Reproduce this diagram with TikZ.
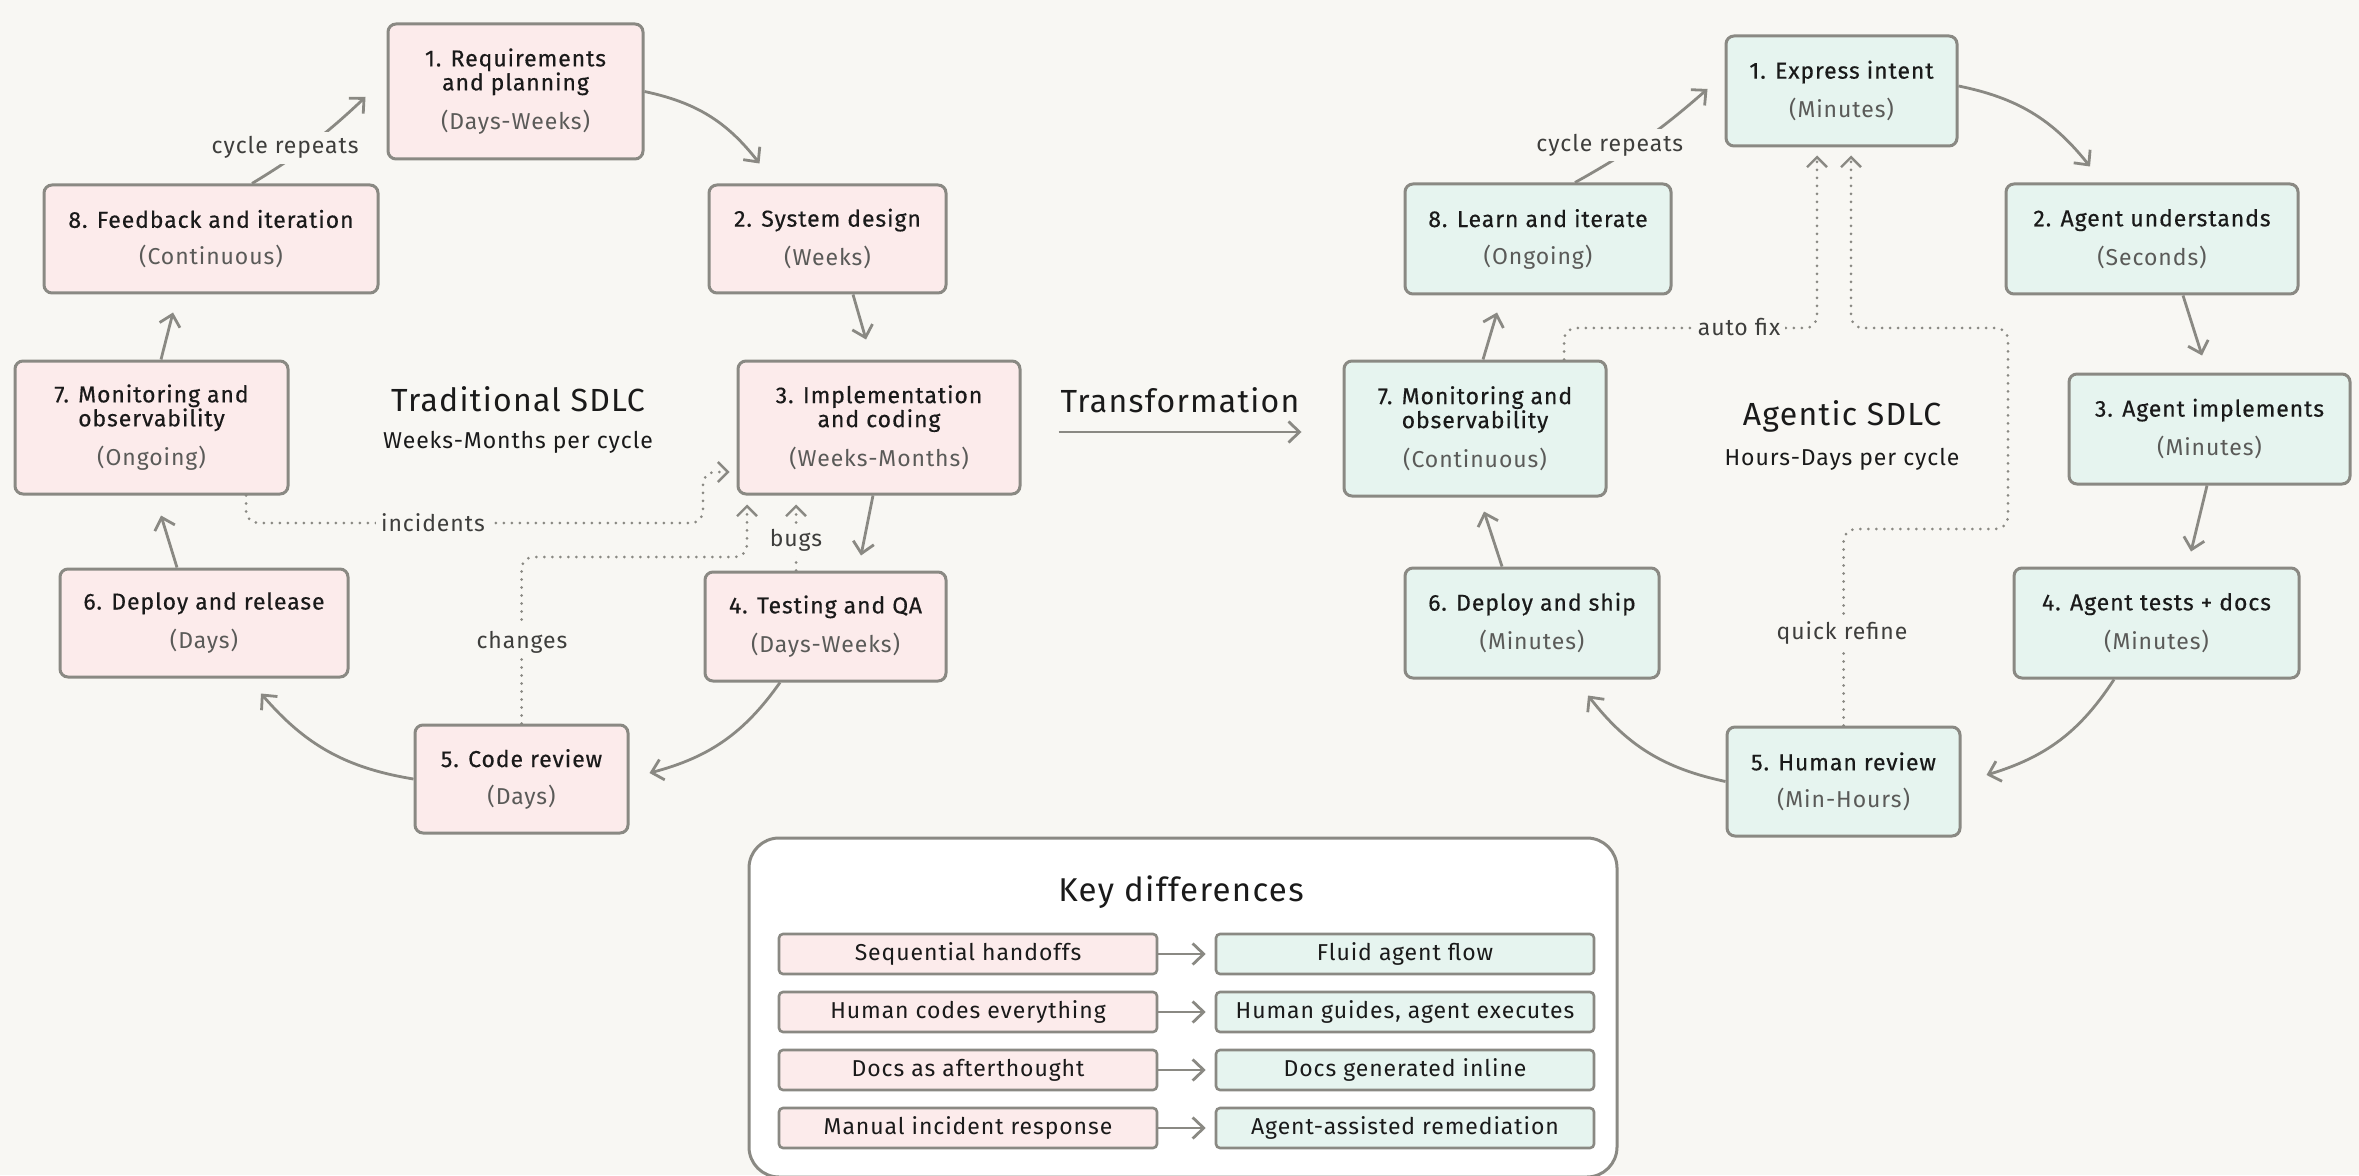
\documentclass[tikz,border=0pt]{standalone}
\usepackage{fontspec}
\setmainfont[LetterSpace=4]{Fira Sans}
\newfontfamily\stagefont[LetterSpace=4,FakeBold=0.4]{Fira Sans}
\usetikzlibrary{arrows.meta,calc}

\definecolor{bg}{HTML}{F8F7F3}
\definecolor{pinkfill}{HTML}{FCEBEB}
\definecolor{greenfill}{HTML}{E6F4EF}
\definecolor{edge}{HTML}{8A8983}
\definecolor{ink}{HTML}{1A1A1A}
\definecolor{sub}{HTML}{5A5A58}
\definecolor{lblink}{HTML}{3E3E3C}

% two-part stage text: title, then duration in grey
\newcommand{\stagetext}[2]{#1\\[6.5pt]\textcolor{sub}{\rmfamily #2}}

\tikzset{
  stage/.style={draw=edge, line width=1.5pt, rounded corners=4pt, align=center,
    inner sep=0pt, text=ink, font=\stagefont\fontsize{11.5}{12}\selectfont},
  trad/.style={stage, fill=pinkfill},
  agent/.style={stage, fill=greenfill},
  tip/.style={-{Straight Barb[length=5.5pt,width=10.5pt,line width=1.4pt]}},
  flow/.style={draw=edge, line width=1.4pt, tip},
  loopback/.style={draw=edge, line width=1.5pt, line cap=round,
    dash pattern=on 0pt off 4pt, rounded corners=6pt,
    -{Straight Barb[length=5pt,width=10pt,line width=1.2pt]}},
  lbl/.style={fill=bg, text=lblink, inner sep=2.5pt, font=\fontsize{11.5}{12}\selectfont},
  ctitle/.style={anchor=base, text=ink, font=\fontsize{16}{18}\selectfont},
  csub/.style={anchor=base, text=ink, font=\fontsize{11.5}{13}\selectfont},
  keyrow/.style={draw=edge, line width=1.3pt, rounded corners=2pt, inner sep=0pt,
    minimum width=189pt, minimum height=20pt, text=ink, font=\fontsize{11.5}{12}\selectfont},
}

\begin{document}
\begin{tikzpicture}[x=0.5pt, y=0.5pt]
  \fill[bg] (0,0) rectangle (2359,1175);
  \useasboundingbox (0,0) rectangle (2359,1175);
  \clip (0,0) rectangle (2359,1175);

  % ---------------- traditional cycle ----------------
  \node[trad, minimum width=127.5pt, minimum height=67.5pt] (L1) at (515.5,1083.5)
    {\stagetext{1. Requirements\\and planning}{(Days-Weeks)}};
  \node[trad, minimum width=118.5pt, minimum height=54pt] (L2) at (827.5,936)
    {\stagetext{2. System design}{(Weeks)}};
  \node[trad, minimum width=141pt, minimum height=66.5pt] (L3) at (879,747.5)
    {\stagetext{3. Implementation\\and coding}{(Weeks-Months)}};
  \node[trad, minimum width=120.5pt, minimum height=54.5pt] (L4) at (825.5,548.5)
    {\stagetext{4. Testing and QA}{(Days-Weeks)}};
  \node[trad, minimum width=106.5pt, minimum height=54pt] (L5) at (521.5,396)
    {\stagetext{5. Code review}{(Days)}};
  \node[trad, minimum width=144pt, minimum height=54pt] (L6) at (204,552)
    {\stagetext{6. Deploy and release}{(Days)}};
  \node[trad, minimum width=136.5pt, minimum height=66.5pt] (L7) at (151.5,747.5)
    {\stagetext{7. Monitoring and\\observability}{(Ongoing)}};
  \node[trad, minimum width=167pt, minimum height=54pt] (L8) at (211,936)
    {\stagetext{8. Feedback and iteration}{(Continuous)}};

  \node[ctitle] (tradT) at (518,764) {Traditional SDLC};
  \node[csub] (tradS) at (518,727) {Weeks-Months per cycle};

  \draw[flow] (L1.east) to[bend left=20] ([xshift=-34pt,yshift=10pt]L2.north);
  \draw[flow] ([xshift=12.75pt]L2.south) -- ([xshift=-6.5pt,yshift=10pt]L3.north);
  \draw[flow] ([xshift=-3pt]L3.south) -- ([xshift=17.75pt,yshift=7.5pt]L4.north);
  \draw[flow] ([xshift=-22.75pt]L4.south) to[bend left=20] ([xshift=10pt,yshift=3pt]L5.east);
  \draw[flow] (L5.west) to[bend left=20] ([xshift=28.5pt,yshift=-7.5pt]L6.south);
  \draw[flow] ([xshift=-13.5pt]L6.north) -- ([xshift=4.75pt,yshift=-10pt]L7.south);
  \draw[flow] ([xshift=4.75pt]L7.north) -- ([xshift=-19pt,yshift=-9pt]L8.south);
  \draw[flow] ([xshift=20.5pt]L8.north) to[bend right=6]
    node[lbl, pos=0.45, xshift=-10.5pt] (Lrep) {cycle repeats}
    ([xshift=-10.5pt,yshift=-2.75pt]L1.west);

  % feedback loops back into implementation
  \coordinate (incA) at (703,652);
  \draw[loopback] ([xshift=47.25pt]L7.south) |- (incA) |- ([xshift=-3.5pt,yshift=-22.25pt]L3.west);
  \node[lbl] (incL) at (433,652) {incidents};

  \coordinate (chgA) at (747,618);
  \draw[loopback] (L5.north) |- (chgA) -- ([xshift=-66pt,yshift=-4.5pt]L3.south);
  \node[lbl] (chgL) at (522,533) {changes};

  \draw[loopback] ([xshift=-14.75pt]L4.north) -- ([xshift=-41.5pt,yshift=-4.5pt]L3.south);
  \node[lbl] (bugL) at (796,635) {bugs};

  % ---------------- agentic cycle ----------------
  \node[agent, minimum width=115.5pt, minimum height=55pt] (R1) at (1841.5,1084)
    {\stagetext{1. Express intent}{(Minutes)}};
  \node[agent, minimum width=146pt, minimum height=55pt] (R2) at (2152,936)
    {\stagetext{2. Agent understands}{(Seconds)}};
  \node[agent, minimum width=140.5pt, minimum height=55pt] (R3) at (2209.5,746)
    {\stagetext{3. Agent implements}{(Minutes)}};
  \node[agent, minimum width=142.5pt, minimum height=55pt] (R4) at (2156.5,552)
    {\stagetext{4. Agent tests + docs}{(Minutes)}};
  \node[agent, minimum width=116.5pt, minimum height=54.5pt] (R5) at (1843.5,393.5)
    {\stagetext{5. Human review}{(Min-Hours)}};
  \node[agent, minimum width=127pt, minimum height=55pt] (R6) at (1532,552)
    {\stagetext{6. Deploy and ship}{(Minutes)}};
  \node[agent, minimum width=131pt, minimum height=67.5pt] (R7) at (1475,746.5)
    {\stagetext{7. Monitoring and\\observability}{(Continuous)}};
  \node[agent, minimum width=133pt, minimum height=55pt] (R8) at (1538,936)
    {\stagetext{8. Learn and iterate}{(Ongoing)}};

  \node[ctitle] (agT) at (1842,750) {Agentic SDLC};
  \node[csub] (agS) at (1842,710) {Hours-Days per cycle};

  \draw[flow] ([yshift=2.5pt]R1.east) to[bend left=20] ([xshift=-31pt,yshift=8pt]R2.north);
  \draw[flow] ([xshift=15.5pt]R2.south) -- ([xshift=-3.75pt,yshift=8.5pt]R3.north);
  \draw[flow] ([xshift=-1.25pt]R3.south) -- ([xshift=17.25pt,yshift=7.5pt]R4.north);
  \draw[flow] ([xshift=-21.25pt]R4.south) to[bend left=20] ([xshift=12.5pt,yshift=3.25pt]R5.east);
  \draw[flow] (R5.west) to[bend left=20] ([xshift=28pt,yshift=-8pt]R6.south);
  \draw[flow] ([xshift=-15pt]R6.north) -- ([xshift=4.5pt,yshift=-7pt]R7.south);
  \draw[flow] ([xshift=4pt]R7.north) -- ([xshift=-20.5pt,yshift=-8.5pt]R8.south);
  \draw[flow] ([xshift=18.5pt]R8.north) to[bend right=6]
    node[lbl, pos=0.44, xshift=-13.5pt] (Rrep) {cycle repeats}
    ([xshift=-8.5pt,yshift=1pt]R1.west);

  % fast loops back to intent
  \coordinate (fixA) at (1817,847);
  \draw[loopback] ([xshift=44.5pt]R7.north) |- (fixA) -- ([xshift=-12.25pt,yshift=-4pt]R1.south);
  \node[lbl] (fixL) at (1739,848) {auto fix};

  \coordinate (refA) at (2008,646);
  \coordinate (refB) at (1851,847);
  \draw[loopback] (R5.north) |- (refA) |- (refB) -- ([xshift=4.75pt,yshift=-4pt]R1.south);
  \node[lbl] (refL) at (1842,542) {quick refine};

  % ---------------- transformation ----------------
  \node[anchor=base, text=ink, font=\fontsize{16}{18}\selectfont] (trans) at (1180,763) {Transformation};
  \draw[flow] ([xshift=18.5pt,yshift=-2.25pt]L3.east) -- ([xshift=-20.5pt,yshift=-1.75pt]R7.west);

  % ---------------- key differences ----------------
  \node[draw=edge, line width=1.5pt, fill=white, rounded corners=15pt,
    minimum width=434pt, minimum height=169.5pt, inner sep=0pt] (key) at (1183,167.5) {};
  \node[anchor=base, text=ink, font=\fontsize{16.5}{18}\selectfont] (keyT) at (1181,274) {Key differences};

  \node[keyrow, fill=pinkfill] (k1a) at (968,221) {Sequential handoffs};
  \node[keyrow, fill=greenfill] (k1b) at (1405,221) {Fluid agent flow};
  \node[keyrow, fill=pinkfill] (k2a) at (968,163) {Human codes everything};
  \node[keyrow, fill=greenfill] (k2b) at (1405,163) {Human guides, agent executes};
  \node[keyrow, fill=pinkfill] (k3a) at (968,105) {Docs as afterthought};
  \node[keyrow, fill=greenfill] (k3b) at (1405,105) {Docs generated inline};
  \node[keyrow, fill=pinkfill] (k4a) at (968,47) {Manual incident response};
  \node[keyrow, fill=greenfill] (k4b) at (1405,47) {Agent-assisted remediation};

  \foreach \r in {1,...,4}
    \draw[flow] (k\r a.east) -- ([xshift=-4.5pt]k\r b.west);
\end{tikzpicture}
\end{document}
